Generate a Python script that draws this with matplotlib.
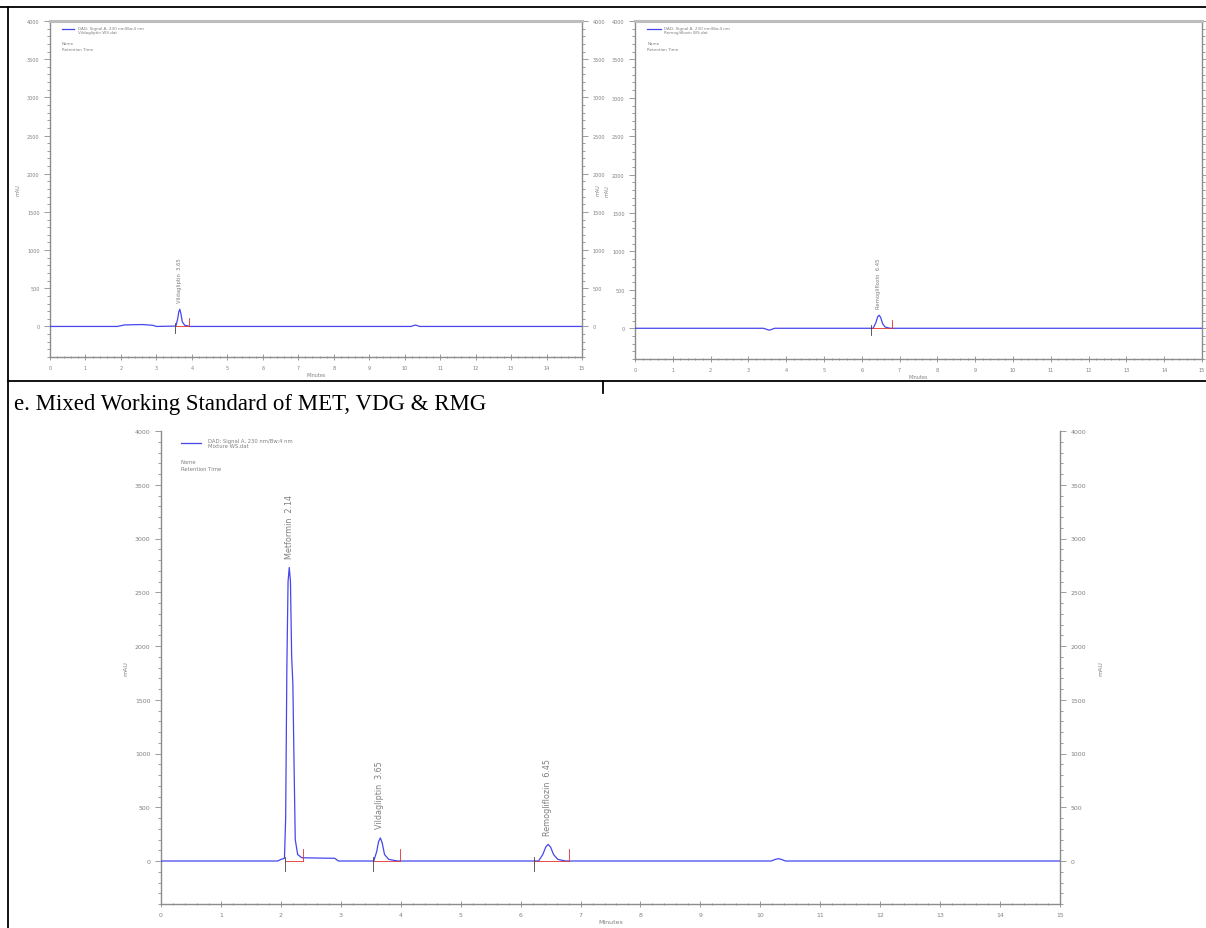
import matplotlib
matplotlib.use('Agg')
import matplotlib.pyplot as plt
from matplotlib.lines import Line2D
from matplotlib.ticker import MultipleLocator

W, H = 1206, 929

# --- data (time in min, signal in mAU) ---
vdg_t = [0, 1.9, 2.1, 2.6, 2.9, 3.0, 3.55, 3.60, 3.63, 3.66, 3.69, 3.73, 3.80, 3.95,
         10.18, 10.25, 10.30, 10.35, 10.42, 15]
vdg_y = [0, 0, 20, 25, 15, 0, 5, 100, 190, 225, 170, 60, 15, 0,
         0, 12, 18, 12, 0, 0]

rmg_t = [0, 3.4, 3.55, 3.7, 6.30, 6.37, 6.42, 6.46, 6.50, 6.55, 6.62, 6.75, 15]
rmg_y = [0, 0, -25, 0, 0, 70, 150, 170, 140, 60, 15, 0, 0]

mix_t = [0, 1.95, 2.00, 2.06, 2.08, 2.10, 2.12, 2.14, 2.16, 2.18,
         2.20, 2.22, 2.24, 2.28, 2.35, 2.90, 2.96,
         3.55, 3.60, 3.63, 3.66, 3.69, 3.73, 3.80, 3.95,
         6.30, 6.37, 6.42, 6.46, 6.50, 6.55, 6.62, 6.75,
         10.18, 10.25, 10.30, 10.35, 10.42, 15]
mix_y = [0, 0, 15, 25, 400, 1800, 2600, 2730, 2600, 1900,
         1650, 900, 200, 60, 30, 25, 0,
         0, 90, 180, 215, 170, 60, 15, 0,
         0, 60, 130, 155, 130, 60, 15, 0,
         0, 15, 22, 15, 0, 0]

# peaks: name, retention time, apex height
vdg_peaks = [("Vildagliptin", 3.65, 225)]
rmg_peaks = [("Remogliflozin", 6.45, 170)]
mix_peaks = [("Metformin", 2.14, 2730), ("Vildagliptin", 3.65, 215),
             ("Remogliflozin", 6.45, 155)]

# integration start / end
vdg_events = [(3.53, 3.92)]
rmg_events = [(6.25, 6.80)]
mix_events = [(2.07, 2.37), (3.53, 3.98), (6.22, 6.80)]

signal_name = "DAD: Signal A, 230 nm/Bw:4 nm"

AX_COL = '#8c8c8c'
TXT_COL = '#808080'
TRACE = '#4646ee'
RED = '#e03030'


def px_axes(fig, left, top, right, bottom):
    return fig.add_axes([left / W, 1 - bottom / H, (right - left) / W, (bottom - top) / H])


def chromatogram(ax, t, y, peaks, events, file_name, fs, label_fs, top_spine,
                 right_labels=True, right_pos=1.045, left_pad=5):
    ax.plot(t, y, color=TRACE, lw=0.9, zorder=3)
    for s, e in events:
        ax.plot([s, e], [0, 0], color=RED, lw=0.6, zorder=4)
        ax.plot([s, s], [-90, 40], color='#404040', lw=0.6, zorder=4)
        ax.plot([e, e], [0, 110], color=RED, lw=0.6, zorder=4)
    for name, rt, h in peaks:
        ax.text(rt, h + 90, "%s  %.2f" % (name, rt), rotation=90, ha='center',
                va='bottom', fontsize=label_fs, color=TXT_COL)

    ax.set_xlim(0, 15)
    ax.set_ylim(-400, 4000)
    ax.xaxis.set_major_locator(MultipleLocator(1))
    ax.xaxis.set_minor_locator(MultipleLocator(0.2))
    ax.yaxis.set_major_locator(MultipleLocator(500))
    ax.yaxis.set_minor_locator(MultipleLocator(100))
    ax.tick_params(axis='both', which='both', colors=AX_COL, labelcolor=TXT_COL,
                   labelsize=fs, width=0.6)
    ax.tick_params(axis='y', which='both', right=True, labelright=right_labels, direction='out')
    ax.tick_params(axis='x', which='both', direction='inout')
    ax.tick_params(which='major', length=4)
    ax.tick_params(which='minor', length=2)
    for side in ['left', 'right', 'bottom']:
        ax.spines[side].set_color(AX_COL)
        ax.spines[side].set_linewidth(1.0)
    if top_spine:
        ax.spines['top'].set_color('#bdbdbd')
        ax.spines['top'].set_linewidth(2.2)
    else:
        ax.spines['top'].set_visible(False)

    ax.set_xlabel("Minutes", fontsize=fs, color=TXT_COL, labelpad=2)
    ax.set_ylabel("mAU", fontsize=fs, color=TXT_COL, labelpad=left_pad)
    if right_labels:
        ax.text(right_pos, 0.5, "mAU", rotation=90, transform=ax.transAxes, ha='center',
                va='center', fontsize=fs, color=TXT_COL)

    # legend block in the upper left corner
    ax.plot([0.022, 0.045], [0.975, 0.975], transform=ax.transAxes, color=TRACE, lw=0.9)
    ax.text(0.052, 0.985, signal_name + "\n" + file_name, transform=ax.transAxes,
            ha='left', va='top', fontsize=fs * 0.85, color=TXT_COL, linespacing=1.1)
    ax.text(0.022, 0.94, "Name\nRetention Time", transform=ax.transAxes,
            ha='left', va='top', fontsize=fs * 0.85, color=TXT_COL, linespacing=1.5)


fig = plt.figure(figsize=(W / 100, H / 100), dpi=100)

ax1 = px_axes(fig, 50, 22, 582, 358)
chromatogram(ax1, vdg_t, vdg_y, vdg_peaks, vdg_events, "Vildagliptin WS.dat", 3.5, 3.8, True,
             right_pos=1.03)

ax2 = px_axes(fig, 635, 22, 1202, 360)
chromatogram(ax2, rmg_t, rmg_y, rmg_peaks, rmg_events, "Remogliflozin WS.dat", 3.5, 3.8, True,
             right_labels=False, left_pad=2)

ax3 = px_axes(fig, 161, 432, 1060, 905)
chromatogram(ax3, mix_t, mix_y, mix_peaks, mix_events, "Mixture WS.dat", 4.5, 5.8, False)

# table borders
def fig_line(x0, y0, x1, y1):
    fig.add_artist(Line2D([x0 / W, x1 / W], [1 - y0 / H, 1 - y1 / H],
                          transform=fig.transFigure, color='black', lw=1.3))

fig_line(0, 8, W, 8)
fig_line(8, 8, 8, H)
fig_line(8, 382, W, 382)
fig_line(603, 382, 603, 394)

fig.text(14 / W, 1 - 405 / H, "e. Mixed Working Standard of MET, VDG & RMG",
         family='Liberation Serif', fontsize=16.5, va='center', ha='left')

fig.savefig('out.png', dpi=100)
